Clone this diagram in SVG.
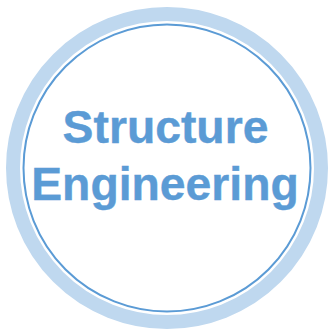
<svg xmlns="http://www.w3.org/2000/svg" width="329" height="330" viewBox="0 0 329 330">
<style>
.t{font-family:"Liberation Sans",Arial,sans-serif;font-weight:700;font-size:46.3px;fill:#5b9bd5;stroke:#5b9bd5;stroke-width:0.4px;text-anchor:middle}
</style>
<rect width="329" height="330" fill="#ffffff"/>
<g id="node-structure-engineering">
<circle cx="167" cy="168" r="154" fill="none" stroke="#bfd8ef" stroke-width="14"/>
<circle cx="167" cy="168" r="143.5" fill="#ffffff" stroke="#5b9bd5" stroke-width="2"/>
<text class="t" x="165.5" y="143">Structure</text>
<text class="t" x="165" y="200">Engineering</text>
</g>
</svg>
